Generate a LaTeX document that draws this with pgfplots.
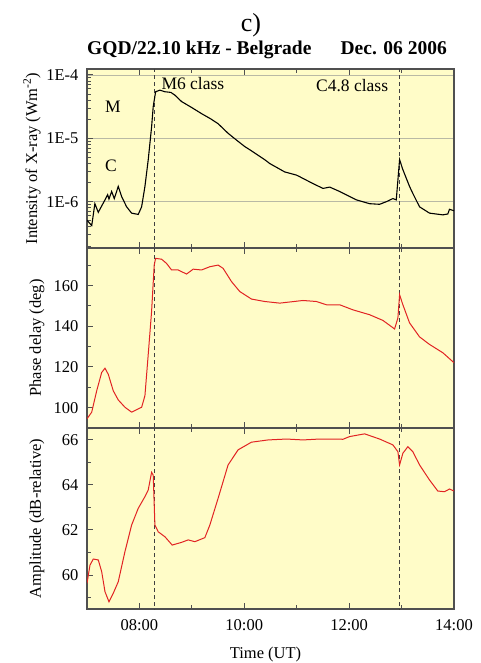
\documentclass[border=0pt]{standalone}
\usepackage{pgfplots}
\pgfplotsset{compat=1.18}
\usepackage{fontspec}
\setmainfont{Liberation Serif}
\definecolor{bgy}{RGB}{255,252,200}
\definecolor{axg}{RGB}{80,80,80}
\definecolor{rl}{RGB}{225,35,35}
\definecolor{grd}{RGB}{185,185,165}
\pgfplotsset{
 panel/.style={
  scale only axis, width=367pt,
  xmin=7, xmax=14,
  xtick={8,10,12,14}, minor xtick={9,11,13},
  xtick pos=both, ytick pos=left,
  tick align=inside,
  major tick length=6pt, minor tick length=4pt,
  axis background/.style={fill=bgy},
  axis line style={draw=axg, line width=1.3pt},
  tick style={draw=axg, line width=1pt},
  tick label style={font=\fontsize{16.5}{19}\selectfont},
  label style={font=\fontsize{16.5}{19}\selectfont},
  yticklabel style={xshift=-5pt},
  xticklabel style={yshift=-7pt},
  /pgf/number format/assume math mode=true,
  anchor=south west,
  ylabel style={at={(rel axis cs:0,0.5)}, anchor=center},
 },
 vline/.style={draw=black!75, dash pattern=on 4pt off 3pt, line width=1pt},
}
\begin{document}
\begin{tikzpicture}
% top panel
\begin{axis}[panel, at={(87pt,-248pt)}, height=179pt,
  ymode=log, ymin=1.86e-7, ymax=1.24e-4,
  ytick={1e-6,1e-5,1e-4}, yticklabels={1E-6,1E-5,1E-4},
  minor ytick={2e-7,3e-7,4e-7,5e-7,6e-7,7e-7,8e-7,9e-7,2e-6,3e-6,4e-6,5e-6,6e-6,7e-6,8e-6,9e-6,2e-5,3e-5,4e-5,5e-5,6e-5,7e-5,8e-5,9e-5},
  ymajorgrids, grid style={draw=grd, line width=0.8pt},
  xticklabels={},
  ylabel={Intensity of X-ray (Wm\textsuperscript{-2})},
  ylabel style={yshift=55pt},
]
\addplot[vline] coordinates {(8.28,1.5e-7) (8.28,1.5e-4)};
\addplot[vline] coordinates {(12.96,1.5e-7) (12.96,1.5e-4)};
\addplot[black, line width=1.1pt] coordinates {
(7.00,5.1e-7) (7.09,4.2e-7) (7.15,9.3e-7) (7.215,6.8e-7) (7.343,1.07e-6)
(7.394,1.29e-6) (7.419,1.10e-6) (7.470,1.45e-6) (7.520,1.12e-6) (7.596,1.74e-6)
(7.661,1.20e-6) (7.756,8.3e-7) (7.851,6.6e-7) (7.977,6.3e-7) (8.042,8.3e-7)
(8.105,1.74e-6) (8.168,4.6e-6) (8.232,1.51e-5) (8.263,3.16e-5) (8.309,5.43e-5)
(8.390,5.75e-5) (8.486,5.43e-5) (8.600,5.3e-5) (8.676,4.8e-5) (8.804,3.8e-5)
(9.000,3.05e-5) (9.185,2.45e-5) (9.350,2.05e-5) (9.501,1.70e-5) (9.691,1.20e-5)
(9.850,9.4e-6) (10.010,7.4e-6) (10.105,6.6e-6) (10.250,5.5e-6)
(10.390,4.6e-6) (10.486,4.0e-6) (10.771,2.95e-6) (10.994,2.63e-6) (11.057,2.48e-6)
(11.300,1.95e-6) (11.501,1.62e-6) (11.629,1.70e-6) (11.819,1.45e-6) (12.000,1.22e-6)
(12.137,1.07e-6) (12.390,9.3e-7)
(12.581,9.1e-7) (12.709,1.0e-6) (12.834,1.12e-6) (12.899,1.07e-6) (12.962,4.6e-6)
(13.025,3.2e-6) (13.152,1.74e-6) (13.215,1.35e-6) (13.343,8.3e-7) (13.533,6.6e-7)
(13.787,6.2e-7) (13.882,6.4e-7) (13.914,7.6e-7) (14.0,7.2e-7)};
\node[font=\fontsize{17.5}{20}\selectfont] at (axis cs:7.495,3.2e-5) {M};
\node[font=\fontsize{17.5}{20}\selectfont] at (axis cs:7.457,3.65e-6) {C};
\node[font=\fontsize{17.5}{20}\selectfont] at (axis cs:9.02,7.2e-5) {M6 class};
\node[font=\fontsize{17.5}{20}\selectfont] at (axis cs:12.057,6.9e-5) {C4.8 class};
\end{axis}
% middle panel
\begin{axis}[panel, at={(87pt,-428pt)}, height=180pt,
  ymin=90, ymax=178.5,
  ytick={100,120,140,160}, minor ytick={110,130,150,170},
  xticklabels={},
  ylabel={Phase delay (deg)},
  ylabel style={yshift=50pt},
]
\addplot[vline] coordinates {(8.28,80) (8.28,190)};
\addplot[vline] coordinates {(12.96,80) (12.96,190)};
\addplot[rl, line width=1pt] coordinates {
(7.0,94.5) (7.09,97.8) (7.185,108.3) (7.28,117.3) (7.343,119.4) (7.406,116.4)
(7.501,108.3) (7.596,103.8) (7.724,100.2) (7.851,97.8) (7.977,99.4) (8.042,100.2)
(8.105,105.9) (8.168,126.2) (8.232,147.3) (8.282,170.1) (8.309,173.4) (8.423,173.0)
(8.518,170.9) (8.613,167.7) (8.739,167.7) (8.899,165.7) (9.025,168.1) (9.185,167.7)
(9.343,169.3) (9.501,170.1) (9.596,168.5) (9.756,162.0) (9.914,157.1) (10.137,153.4)
(10.390,152.2) (10.676,151.4) (11.120,152.7) (11.375,152.2) (11.566,150.6) (11.819,150.6)
(12.072,148.1) (12.390,145.7) (12.644,142.9) (12.867,138.7) (12.930,144.1) (12.962,155.5)
(13.025,150.6) (13.152,141.7) (13.343,134.8) (13.533,131.1) (13.787,127.0) (14.0,122.1)};
\end{axis}
% bottom panel
\begin{axis}[panel, at={(87pt,-609pt)}, height=181pt,
  ymin=58.49, ymax=66.53,
  ytick={60,62,64,66}, minor ytick={59,61,63,65},
  xticklabels={08:00,10:00,12:00,14:00},
  ylabel={Amplitude (dB-relative)},
  ylabel style={yshift=50pt},
  xlabel={Time (UT)},
  xlabel style={at={(rel axis cs:0.5,0)}, anchor=center, yshift=-46pt, xshift=-5pt},
]
\addplot[vline] coordinates {(8.28,58) (8.28,67)};
\addplot[vline] coordinates {(12.96,58) (12.96,67)};
\addplot[rl, line width=1pt] coordinates {
(7.0,59.63) (7.057,60.44) (7.12,60.71) (7.215,60.67) (7.28,60.15) (7.343,59.26)
(7.419,58.81) (7.501,59.19) (7.596,59.70) (7.724,61.04) (7.851,62.22) (7.977,62.96)
(8.105,63.48) (8.168,63.78) (8.232,64.56) (8.263,64.44) (8.295,62.22) (8.358,61.92)
(8.486,61.70) (8.625,61.33) (8.804,61.45) (8.930,61.56) (9.057,61.48) (9.248,61.66)
(9.343,62.22) (9.501,63.41) (9.691,64.89) (9.882,65.56) (10.137,65.90) (10.453,66.0)
(10.804,66.04) (11.120,66.0) (11.438,66.04) (11.882,66.03) (12.010,66.15) (12.295,66.27)
(12.581,66.04) (12.834,65.78) (12.930,65.48) (12.962,64.89) (13.025,65.41) (13.120,65.70)
(13.215,65.48) (13.343,64.89) (13.533,64.22) (13.691,63.73) (13.819,63.70) (13.914,63.82)
(14.0,63.73)};
\end{axis}
\node[font=\fontsize{26}{30}\selectfont] at (251pt,-25pt) {c)};
\node[font=\fontsize{19.5}{23}\selectfont\bfseries, anchor=base west, inner sep=0pt] at (87pt,-55pt) {GQD/22.10 kHz - Belgrade};
\node[font=\fontsize{19.5}{23}\selectfont\bfseries, anchor=base east, inner sep=0pt] at (447pt,-55pt) {Dec. 06 2006};
\pgfresetboundingbox
\path[use as bounding box] (0,0) rectangle (481pt,-663pt);
\end{tikzpicture}
\end{document}
